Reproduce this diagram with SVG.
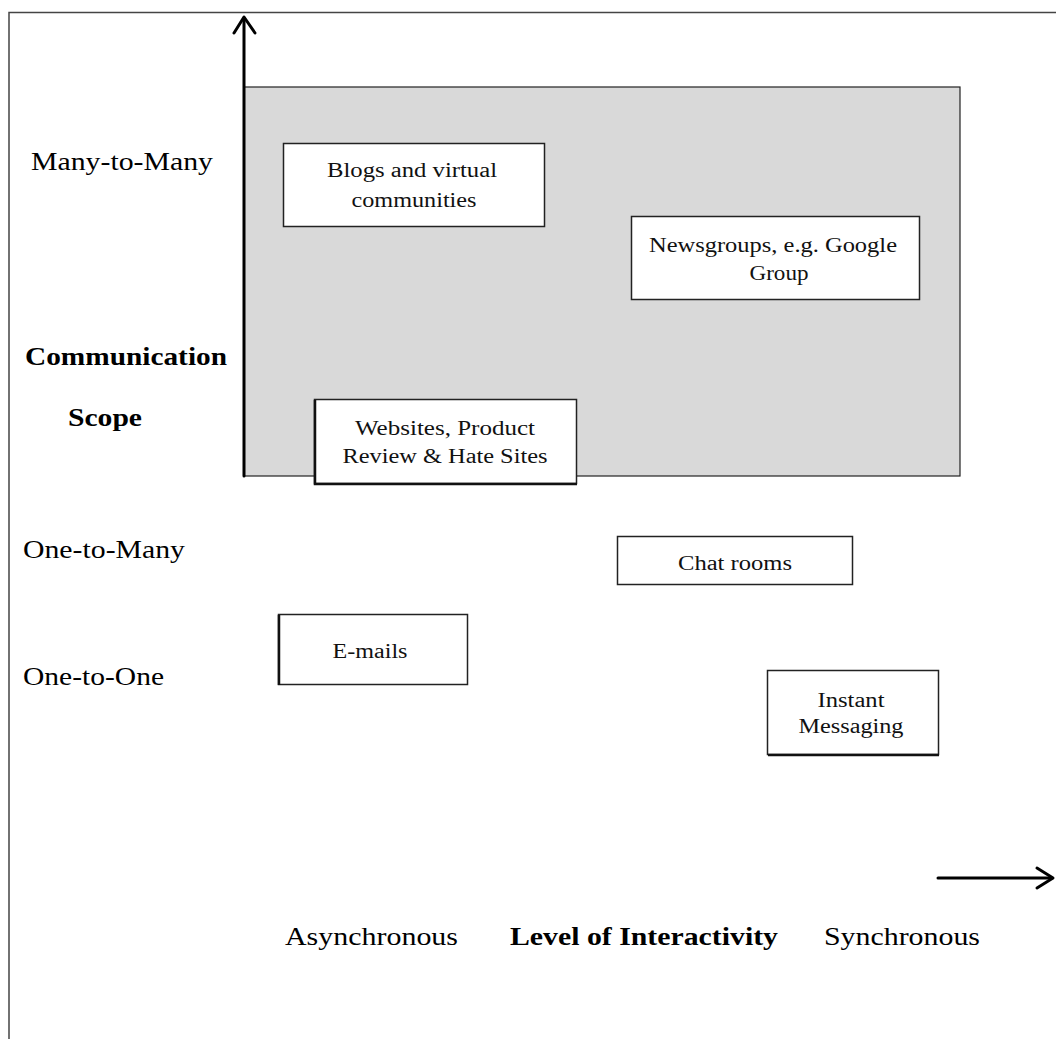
<svg xmlns="http://www.w3.org/2000/svg" width="1056" height="1039" viewBox="0 0 1056 1039">
<style>
.lbl{font-family:"Liberation Serif","Times New Roman",serif;font-size:25px;fill:#000}
.b{font-weight:bold}
.bt{font-family:"Liberation Serif","Times New Roman",serif;font-size:20px;fill:#111;text-anchor:middle}
.box{fill:#fff;stroke:#222;stroke-width:1.5}
.axis{stroke:#000;stroke-width:3;fill:none;stroke-linecap:round;stroke-linejoin:round}
</style>
<rect width="1056" height="1039" fill="#fff"/>
<path d="M9,1039 V12.5 H1056" fill="none" stroke="#444" stroke-width="1.5"/>
<rect id="region" x="244" y="87" width="716" height="389" fill="#d9d9d9" stroke="#222" stroke-width="1.2"/>
<g id="connectors">
<path class="axis" d="M244,476 V18"/>
<path class="axis" d="M234,33 L244,17 L255,33"/>
<path class="axis" d="M938,878 H1052"/>
<path class="axis" d="M1037,868 L1053,878 L1037,888"/>
</g>
<g id="axis-labels">
<text class="lbl" x="31" y="170" textLength="182" lengthAdjust="spacingAndGlyphs">Many-to-Many</text>
<text class="lbl b" x="25" y="365" textLength="202" lengthAdjust="spacingAndGlyphs">Communication</text>
<text class="lbl b" x="68" y="426" textLength="74" lengthAdjust="spacingAndGlyphs">Scope</text>
<text class="lbl" x="23" y="558" textLength="162" lengthAdjust="spacingAndGlyphs">One-to-Many</text>
<text class="lbl" x="23" y="685" textLength="141" lengthAdjust="spacingAndGlyphs">One-to-One</text>
<text class="lbl" x="285" y="945" textLength="173" lengthAdjust="spacingAndGlyphs">Asynchronous</text>
<text class="lbl b" x="510" y="945" textLength="268" lengthAdjust="spacingAndGlyphs">Level of Interactivity</text>
<text class="lbl" x="824" y="945" textLength="156" lengthAdjust="spacingAndGlyphs">Synchronous</text>
</g>
<g id="blogs">
<rect class="box" x="283.5" y="143.5" width="261" height="83"/>
<text class="bt" x="412" y="177" textLength="170" lengthAdjust="spacingAndGlyphs">Blogs and virtual</text>
<text class="bt" x="414" y="207" textLength="125" lengthAdjust="spacingAndGlyphs">communities</text>
</g>
<g id="newsgroups">
<rect class="box" x="631.5" y="216.5" width="288" height="83"/>
<text class="bt" x="773" y="252" textLength="248" lengthAdjust="spacingAndGlyphs">Newsgroups, e.g. Google</text>
<text class="bt" x="779" y="280" textLength="59" lengthAdjust="spacingAndGlyphs">Group</text>
</g>
<g id="websites">
<rect class="box" x="314.5" y="399.5" width="262" height="84"/>
<path d="M315,400 V484 H577" fill="none" stroke="#111" stroke-width="2.5"/>
<text class="bt" x="445" y="435" textLength="180" lengthAdjust="spacingAndGlyphs">Websites, Product</text>
<text class="bt" x="445" y="463" textLength="205" lengthAdjust="spacingAndGlyphs">Review &amp; Hate Sites</text>
</g>
<g id="chatrooms">
<rect class="box" x="617.5" y="536.5" width="235" height="48"/>
<text class="bt" x="735" y="570" textLength="114" lengthAdjust="spacingAndGlyphs">Chat rooms</text>
</g>
<g id="emails">
<rect class="box" x="278.5" y="614.5" width="189" height="70"/>
<path d="M279,615 V685" fill="none" stroke="#111" stroke-width="2.5"/>
<text class="bt" x="370" y="658" textLength="75" lengthAdjust="spacingAndGlyphs">E-mails</text>
</g>
<g id="instant">
<rect class="box" x="767.5" y="670.5" width="171" height="84"/>
<path d="M768,755 H939" fill="none" stroke="#111" stroke-width="2.5"/>
<text class="bt" x="851" y="707" textLength="67" lengthAdjust="spacingAndGlyphs">Instant</text>
<text class="bt" x="851" y="733" textLength="105" lengthAdjust="spacingAndGlyphs">Messaging</text>
</g>
</svg>
